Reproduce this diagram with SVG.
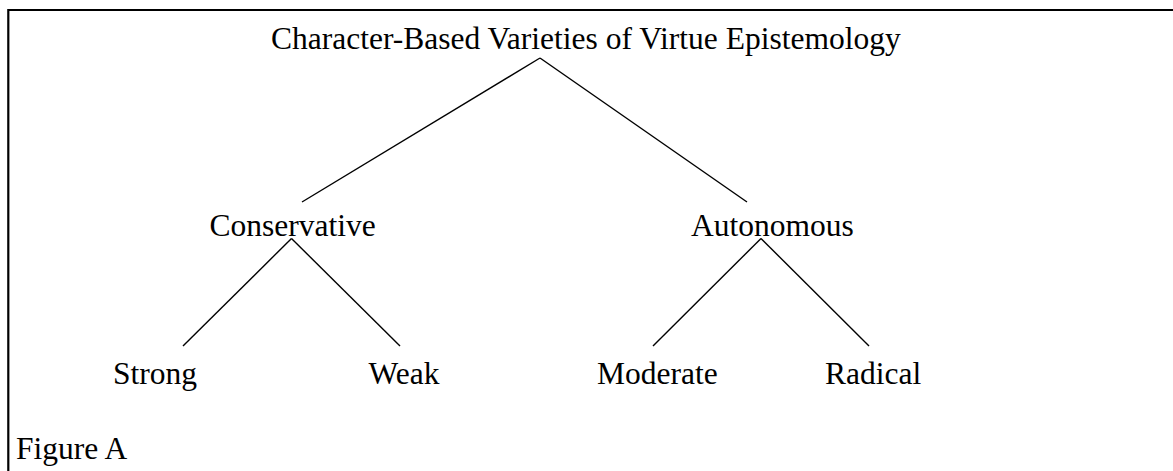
<svg xmlns="http://www.w3.org/2000/svg" width="1173" height="471" viewBox="0 0 1173 471">
<style>
text{font-family:"Liberation Serif","Times New Roman",serif;font-size:31.5px;fill:#000}
.edge{stroke:#000;stroke-width:1.4;fill:none}
.frame{stroke:#000;stroke-width:2.2;fill:none}
</style>
<rect width="1173" height="471" fill="#fff"/>
<path class="frame" d="M8.3,471 V10 H1173"/>
<g id="connectors">
<line class="edge" x1="540" y1="58" x2="302" y2="202"/>
<line class="edge" x1="540" y1="58" x2="747" y2="202"/>
<line class="edge" x1="291.5" y1="238.5" x2="183" y2="346"/>
<line class="edge" x1="291.5" y1="238.5" x2="400" y2="346"/>
<line class="edge" x1="761" y1="238.5" x2="653" y2="346"/>
<line class="edge" x1="761" y1="238.5" x2="869" y2="346"/>
</g>
<g id="root"><text x="271" y="49">Character-Based Varieties of Virtue Epistemology</text></g>
<g id="conservative"><text x="209.5" y="235.5">Conservative</text></g>
<g id="autonomous"><text x="691" y="235.5">Autonomous</text></g>
<g id="strong"><text x="113" y="384">Strong</text></g>
<g id="weak"><text x="368.5" y="384">Weak</text></g>
<g id="moderate"><text x="597" y="384">Moderate</text></g>
<g id="radical"><text x="825" y="384">Radical</text></g>
<g id="caption"><text x="16" y="459">Figure A</text></g>
</svg>
